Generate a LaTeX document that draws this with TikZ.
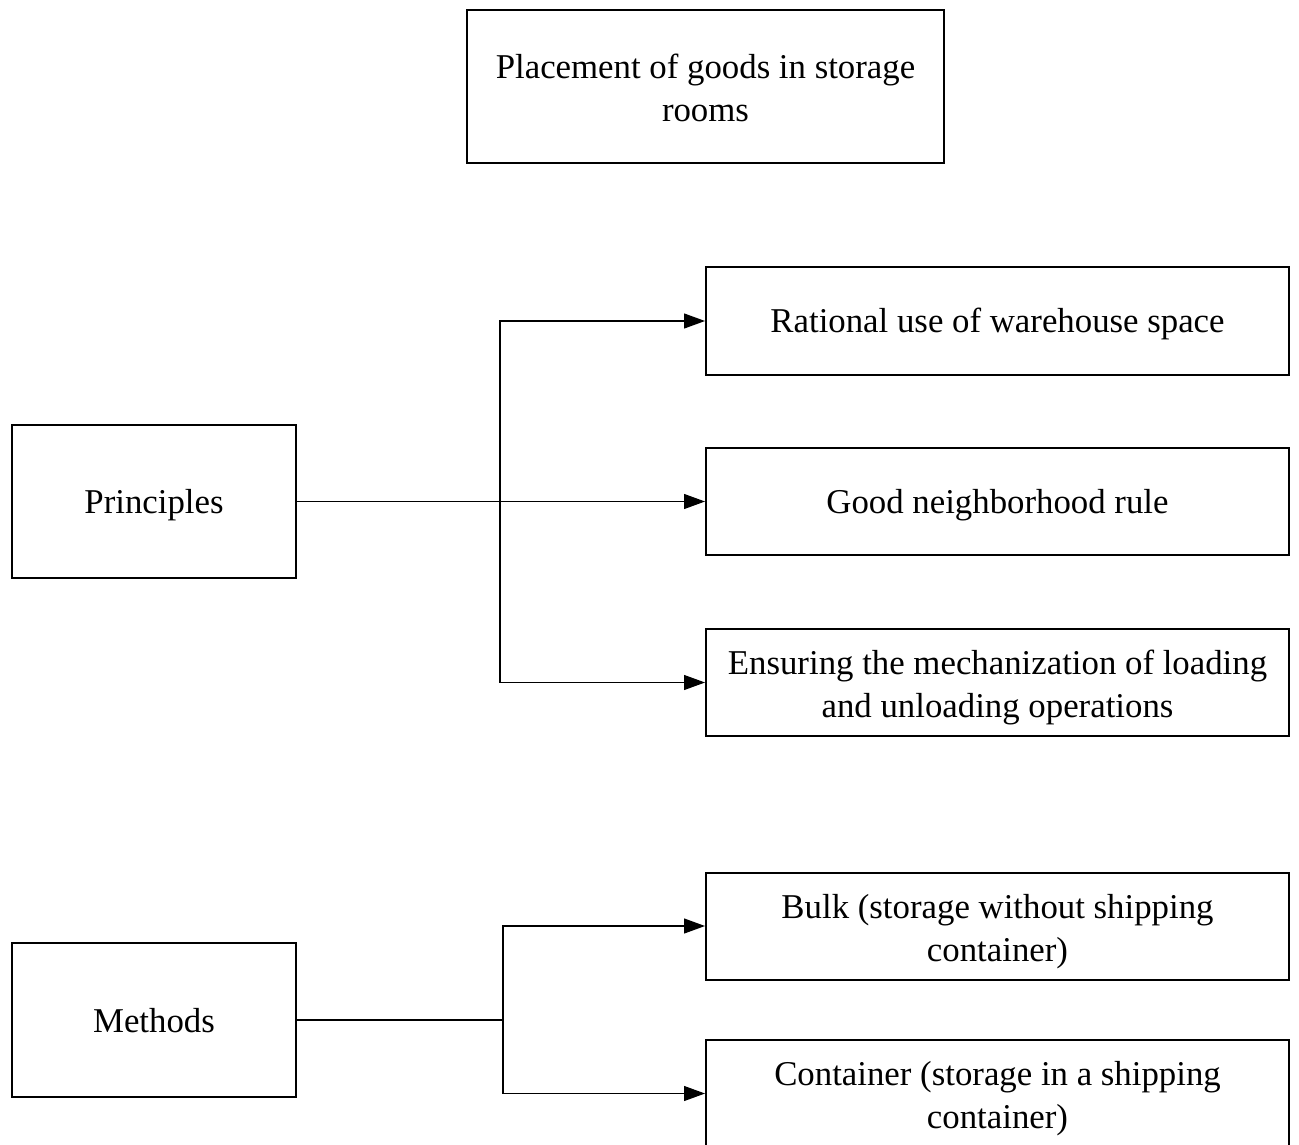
\documentclass[tikz,border=0pt]{standalone}
\usepackage{fontspec}
\setmainfont{Liberation Serif}
\usetikzlibrary{arrows.meta}
\newcommand{\lnstrut}{\rule[-3.5pt]{0pt}{19pt}}
\newcommand{\firststrut}{\rule[-3.5pt]{0pt}{21pt}}
\begin{document}
\begin{tikzpicture}[x=0.5pt,y=-0.5pt,
  box/.style={draw=black,line width=1pt,align=center,inner sep=0pt,
    font=\fontsize{17.4}{21.5}\selectfont},
  widebox/.style={box,minimum width=291.5pt,minimum height=53.5pt},
  conn/.style={draw=black,line width=0.6pt,-{Triangle[length=10.5pt,width=7.5pt]}},
  link/.style={draw=black,line width=0.6pt}]
\useasboundingbox (0,0) rectangle (1299,1144);
\node[box,minimum width=238.5pt,minimum height=76.5pt] (top) at (705.5,86.5) {\firststrut Placement of goods in storage\\\lnstrut rooms};
\node[box,minimum width=142pt,minimum height=76.5pt] (prin) at (154,501.5) {\lnstrut Principles};
\node[widebox] (r1) at (997.5,321) {\lnstrut Rational use of warehouse space};
\node[widebox] (r2) at (997.5,501.5) {\lnstrut Good neighborhood rule};
\node[widebox] (r3) at (997.5,682.5) {\firststrut Ensuring the mechanization of loading\\\lnstrut and unloading operations};
\node[box,minimum width=142pt,minimum height=77pt] (meth) at (154,1020) {\lnstrut Methods};
\node[widebox] (b1) at (997.5,926) {\firststrut Bulk (storage without shipping\\\lnstrut container)};
\node[widebox] (b2) at (997.5,1093.5) {\firststrut Container (storage in a shipping\\\lnstrut container)};
\coordinate (j1) at (500,501.5);
\coordinate (j2) at (503,1020);
\draw[conn] (prin.east) -- (r2.west);
\draw[conn] (j1) |- (r1.west);
\draw[conn] (j1) |- (r3.west);
\draw[link] (meth.east) -- (j2);
\draw[conn] (j2) |- (b1.west);
\draw[conn] (j2) |- (b2.west);
\end{tikzpicture}
\end{document}
